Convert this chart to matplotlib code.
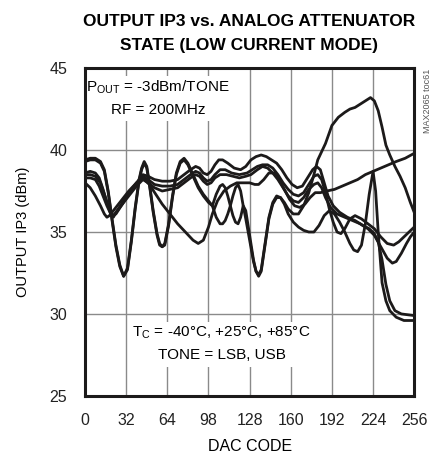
import matplotlib
matplotlib.use("Agg")
import matplotlib.pyplot as plt
from matplotlib.patches import Rectangle

plt.rcParams["font.family"] = ["Liberation Sans", "DejaVu Sans"]
plt.rcParams["mathtext.fontset"] = "custom"
plt.rcParams["mathtext.rm"] = "Liberation Sans"

# ---- data (DAC code, output IP3 dBm) ----
tick_pos = [0, 32, 64, 96, 128, 160, 192, 224, 256]
tick_lbl = ["0", "32", "64", "98", "128", "160", "192", "224", "256"]

a1_code = [0, 4, 8, 12, 15, 18, 21, 24, 27, 30, 33, 36, 39, 42, 44, 46, 48, 50, 53, 56, 58, 60, 62,
           65, 68, 71, 74, 77, 80, 84, 88, 92, 96, 99, 102, 105, 107, 109, 111, 113, 115, 117, 119,
           121, 123, 125, 128, 131, 133, 135, 137, 140, 143, 146, 149, 152, 155, 158, 162, 166, 170,
           174, 178, 182, 186, 190, 194, 198, 202, 206, 209, 212, 215, 218, 221, 224, 226, 228, 231,
           234, 237, 242, 248, 256]
a1_ip3 = [39.4, 39.5, 39.5, 39.3, 38.8, 37.5, 35.8, 34.2, 33.0, 32.3, 32.8, 34.5, 36.5, 38.2, 38.9,
          39.3, 39.0, 38.0, 36.3, 34.9, 34.3, 34.1, 34.3, 35.5, 37.2, 38.6, 39.3, 39.5, 39.2, 38.5,
          37.8, 37.3, 36.9, 36.6, 37.3, 37.8, 37.9, 37.7, 37.2, 36.6, 36.0, 35.6, 35.5, 35.9, 36.6,
          36.3, 34.8, 33.3, 32.6, 32.3, 32.6, 34.2, 35.8, 36.7, 37.1, 37.1, 36.7, 36.1, 35.6, 35.3,
          35.1, 35.0, 35.0, 35.4, 36.0, 36.3, 36.1, 35.6, 35.0, 34.3, 33.9, 33.8, 34.2, 35.5, 37.3,
          38.7, 37.5, 35.0, 31.9, 30.8, 30.2, 29.8, 29.6, 29.6]

a2_code = [0, 4, 8, 12, 15, 18, 21, 24, 27, 30, 33, 36, 39, 42, 44, 46, 48, 50, 53, 56, 58, 60, 62,
           65, 68, 71, 74, 77, 80, 84, 88, 92, 96, 99, 102, 105, 107, 109, 111, 113, 115, 117, 119,
           121, 123, 125, 128, 131, 133, 135, 137, 140, 143, 146, 149, 152, 155, 158, 162, 166, 170,
           174, 178, 181, 184, 187, 192, 197, 202, 206, 210, 216, 222, 225, 228, 231, 234, 237, 241,
           245, 249, 253, 256]
a2_ip3 = [39.3, 39.4, 39.4, 39.2, 38.7, 37.4, 35.7, 34.1, 32.9, 32.3, 32.7, 34.4, 36.4, 38.1, 38.8,
          39.2, 38.9, 37.9, 36.2, 34.8, 34.2, 34.1, 34.2, 35.4, 37.1, 38.5, 39.2, 39.4, 39.1, 38.4,
          37.7, 37.2, 36.8, 36.6, 35.9, 35.5, 35.5, 35.7, 36.1, 36.6, 37.2, 37.7, 37.9, 37.5, 36.6,
          35.8, 34.5, 33.2, 32.6, 32.4, 32.7, 34.3, 35.9, 36.8, 37.2, 37.1, 36.8, 36.4, 36.1, 36.1,
          36.6, 37.4, 38.5, 39.4, 39.9, 40.4, 41.5, 42.0, 42.3, 42.5, 42.6, 42.9, 43.2, 43.0, 42.4,
          41.4, 40.3, 39.7, 39.0, 38.4, 37.7, 36.8, 36.2]

b1_code = [0, 4, 8, 11, 14, 17, 20, 22, 25, 30, 35, 40, 45, 49, 54, 60, 66, 72, 77, 82, 86, 89, 92,
           95, 98, 101, 104, 107, 111, 116, 121, 125, 129, 133, 137, 141, 145, 149, 153, 157, 161,
           165, 169, 173, 177, 180, 183, 186, 189, 193, 198, 204, 210, 216, 221, 225, 228, 231, 234,
           237, 241, 246, 256]
b1_ip3 = [38.6, 38.7, 38.6, 38.3, 37.6, 36.8, 36.1, 35.9, 36.3, 36.9, 37.5, 38.0, 38.5, 38.4, 38.2,
          38.1, 38.1, 38.2, 38.5, 38.8, 39.0, 38.9, 38.6, 38.5, 38.7, 39.1, 39.4, 39.4, 39.2, 38.9,
          38.8, 39.0, 39.4, 39.6, 39.7, 39.6, 39.4, 39.2, 38.8, 38.3, 37.9, 37.7, 37.8, 38.3, 38.8,
          39.0, 38.8, 38.0, 37.2, 36.6, 36.2, 35.9, 35.7, 35.4, 35.2, 34.9, 34.4, 33.3, 31.8, 30.8,
          30.2, 30.0, 29.9]

b2_code = [0, 4, 8, 12, 15, 18, 21, 24, 29, 34, 40, 45, 49, 54, 60, 66, 72, 77, 82, 86, 89, 92, 95,
           98, 101, 105, 109, 114, 120, 126, 130, 134, 138, 142, 146, 150, 154, 158, 162, 166, 170,
           174, 178, 181, 184, 187, 190, 193, 196, 199, 202, 206, 210, 215, 220, 225, 230, 235, 240,
           244, 248, 252, 256]
b2_ip3 = [38.5, 38.5, 38.4, 38.0, 37.3, 36.6, 36.0, 36.1, 36.7, 37.3, 37.9, 38.4, 38.2, 37.9, 37.8,
          37.8, 37.9, 38.2, 38.5, 38.7, 38.6, 38.3, 38.1, 38.2, 38.5, 38.8, 38.8, 38.6, 38.5, 38.6,
          38.8, 39.0, 39.1, 39.1, 38.9, 38.5, 38.0, 37.6, 37.3, 37.2, 37.4, 37.9, 38.4, 38.5, 38.2,
          37.4, 36.4, 35.6, 35.0, 34.9, 35.2, 35.8, 36.0, 35.8, 35.5, 35.2, 34.7, 34.3, 34.2, 34.4,
          34.7, 35.0, 35.3]

c2_code = [0, 4, 8, 11, 14, 17, 20, 22, 25, 30, 35, 40, 45, 49, 54, 60, 66, 72, 77, 82, 86, 89, 92,
           95, 98, 101, 105, 110, 115, 120, 125, 129, 134, 138, 142, 146, 150, 154, 158, 162, 166,
           170, 174, 178, 181, 184, 187, 191, 196, 202, 208, 214, 220, 225, 230, 235, 239, 242, 246,
           250, 253, 256]
c2_ip3 = [38.3, 38.3, 38.2, 37.8, 37.2, 36.6, 36.1, 36.0, 36.3, 36.8, 37.3, 37.8, 38.2, 38.0, 37.7,
          37.5, 37.6, 37.7, 38.0, 38.3, 38.5, 38.4, 38.1, 37.9, 38.0, 38.3, 38.5, 38.5, 38.4, 38.3,
          38.4, 38.5, 38.8, 39.0, 38.9, 38.6, 38.2, 37.7, 37.2, 36.9, 36.8, 37.1, 37.6, 37.9, 38.0,
          37.7, 37.1, 36.5, 36.1, 35.9, 35.7, 35.5, 35.2, 34.8, 34.1, 33.4, 33.1, 33.2, 33.7, 34.3,
          34.7, 35.0]

c1_code = [0, 4, 8, 12, 15, 17, 19, 23, 28, 34, 40, 45, 50, 55, 60, 66, 72, 78, 84, 88, 92, 96, 99,
           103, 108, 113, 118, 123, 128, 132, 135, 139, 143, 147, 151, 155, 159, 163, 167, 171, 175,
           179, 183, 188, 194, 200, 206, 212, 218, 224, 230, 236, 242, 249, 256]
c1_ip3 = [38.0, 37.7, 37.2, 36.6, 36.1, 35.9, 36.0, 36.4, 36.9, 37.5, 38.0, 38.3, 37.9, 37.3, 36.7,
          36.1, 35.5, 35.0, 34.5, 34.3, 34.5, 35.3, 36.1, 36.9, 37.5, 37.8, 38.0, 38.0, 38.0, 37.9,
          37.9, 38.2, 38.6, 38.6, 38.2, 37.6, 37.0, 36.6, 36.5, 36.7, 37.1, 37.4, 37.4, 37.5, 37.6,
          37.8, 38.0, 38.2, 38.5, 38.7, 38.9, 39.1, 39.3, 39.5, 39.8]

curves = [(a1_code, a1_ip3), (a2_code, a2_ip3), (b1_code, b1_ip3),
          (b2_code, b2_ip3), (c2_code, c2_ip3), (c1_code, c1_ip3)]

fig = plt.figure(figsize=(4.43, 4.54), dpi=100)
ax = fig.add_axes([0.192, 0.128, 0.743, 0.722])

for code, ip3 in curves:
    ax.plot(code, ip3, color="#1c1a1a", lw=2.0, solid_joinstyle="round",
            solid_capstyle="round", zorder=3)

ax.set_xlim(0, 256)
ax.set_ylim(25, 45)
ax.set_xticks(tick_pos)
ax.set_xticklabels(tick_lbl)
ax.set_yticks([25, 30, 35, 40, 45])
ax.tick_params(length=0, labelsize=11.5, colors="#222222")
ax.tick_params(axis="x", pad=12)
ax.tick_params(axis="y", pad=13)
ax.set_axisbelow(True)
ax.grid(True, color="#8a8a8a", lw=1.0)
for s in ax.spines.values():
    s.set_linewidth(2.2)
    s.set_color("#1c1a1a")

# white masks behind the annotations
ax.add_patch(Rectangle((0.004, 0.838), 0.443, 0.138, transform=ax.transAxes,
                       fc="white", ec="none", zorder=1))
ax.add_patch(Rectangle((0.146, 0.088), 0.532, 0.138, transform=ax.transAxes,
                       fc="white", ec="none", zorder=1))

ax.text(0.222, 0.942, r"P$_{\rm OUT}$ = -3dBm/TONE", transform=ax.transAxes,
        ha="center", va="center", fontsize=11, zorder=4)
ax.text(0.222, 0.872, "RF = 200MHz", transform=ax.transAxes,
        ha="center", va="center", fontsize=11, zorder=4)
ax.text(0.413, 0.192, r"T$_{\rm C}$ = -40°C, +25°C, +85°C", transform=ax.transAxes,
        ha="center", va="center", fontsize=11, zorder=4)
ax.text(0.417, 0.125, "TONE = LSB, USB", transform=ax.transAxes,
        ha="center", va="center", fontsize=11, zorder=4)

ax.set_xlabel("DAC CODE", fontsize=11.5, labelpad=8)
ax.set_ylabel("OUTPUT IP3 (dBm)", fontsize=10.5, labelpad=14)

fig.text(0.563, 0.952, "OUTPUT IP3 vs. ANALOG ATTENUATOR", ha="center", va="center",
         fontsize=12.5, fontweight="bold")
fig.text(0.563, 0.900, "STATE (LOW CURRENT MODE)", ha="center", va="center",
         fontsize=12.5, fontweight="bold")
fig.text(0.966, 0.848, "MAX2065 toc61", rotation=90, ha="center", va="top",
         fontsize=6.5, color="#555555")

fig.savefig("out.png", dpi=100)
